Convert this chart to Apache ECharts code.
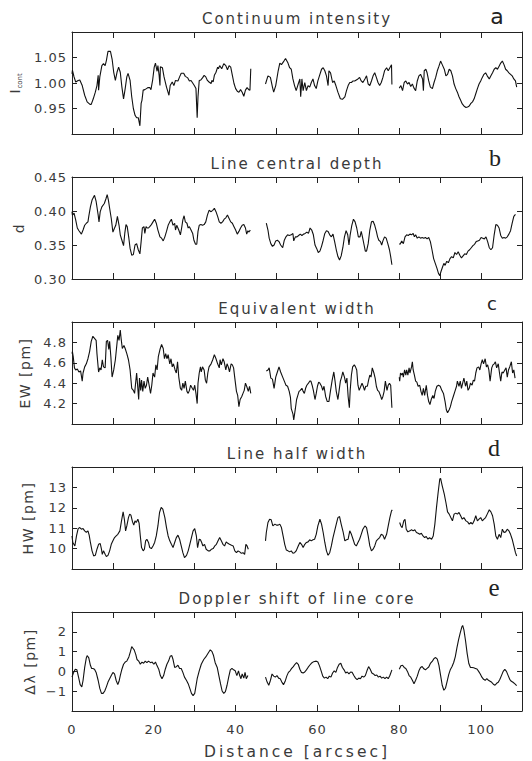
<!DOCTYPE html>
<html>
<head>
<meta charset="utf-8">
<script src="https://cdn.jsdelivr.net/npm/echarts@6/dist/echarts.min.js"></script>
<style>
  html, body { margin: 0; padding: 0; background: #ffffff; }
  #chart { width: 532px; height: 761px; }
  /* wide-tracked lettering for the plot texts */
  #chart text[style*="15px"] { letter-spacing: 2px; }
  #chart text[style*="15.5px"] { letter-spacing: 3px; }
  #chart text[style*="13px"] { letter-spacing: 1px; }
  #chart text[style*="14px"] { letter-spacing: 1.5px; }
</style>
</head>
<body>
<div id="chart"></div>
<script>
// Distance along the slit [arcsec]; gaps in the scan are marked by null.
const panelTitles = ['Continuum intensity', 'Line central depth', 'Equivalent width', 'Line half width', 'Doppler shift of line core'];
const panelLetters = ['a', 'b', 'c', 'd', 'e'];
const distanceTickLabels = [0, 20, 40, 60, 80, 100];

// a: continuum intensity I_cont
const continuumIntensity = [
  [0.0,1.018],[0.1,1.025],[0.5,1.012],[0.9,1.002],[1.5,1.005],[1.9,1.006],[2.5,0.995],[3.1,0.976],[3.7,0.963],[4.4,0.958],[4.7,0.958],[5.2,0.969],[5.7,0.982],[6.1,0.995],[6.4,1.015],[6.5,0.986],[6.8,1.012],[7.3,1.034],[7.7,1.038],[8.1,1.034],[8.4,1.044],[8.8,1.062],[9.4,1.062],[9.8,1.047],[10.2,1.021],[10.6,1.005],[11.0,1.021],[11.4,1.031],[11.8,1.021],[12.2,0.992],[12.6,0.969],[13.0,0.989],[13.4,1.012],[13.7,1.019],[14.2,1.005],[14.6,0.973],[15.0,0.950],[15.4,0.937],[15.8,0.932],[16.2,0.932],[16.6,0.916],[16.9,0.960],[17.1,0.966],[17.4,0.986],[17.8,0.987],[18.2,0.989],[18.6,0.991],[19.0,0.991],[19.3,0.987],[19.7,1.005],[20.1,1.031],[20.4,1.039],[20.8,1.023],[21.0,1.034],[21.3,1.015],[21.5,0.995],[21.6,1.032],[22.1,1.030],[22.5,1.012],[23.1,0.992],[23.7,0.976],[24.0,0.995],[24.5,1.002],[24.9,0.995],[25.3,1.005],[25.9,1.004],[26.3,1.012],[26.7,1.019],[27.3,1.019],[27.7,1.013],[28.3,1.010],[28.7,1.004],[29.1,1.005],[29.5,1.000],[29.9,0.995],[30.3,0.989],[30.6,0.932],[30.8,0.973],[31.1,1.005],[31.5,1.006],[31.9,1.010],[32.3,1.015],[32.7,1.012],[33.1,1.005],[33.5,1.002],[34.0,0.999],[34.2,1.005],[34.5,1.002],[34.8,1.015],[35.2,1.021],[35.6,1.031],[35.8,1.028],[36.1,1.034],[36.6,1.028],[37.1,1.038],[37.6,1.034],[38.0,1.026],[38.4,1.034],[38.8,1.031],[39.2,1.015],[39.6,0.999],[40.0,0.989],[40.4,0.984],[40.8,0.982],[41.2,0.987],[41.6,0.982],[42.0,0.974],[42.4,0.986],[42.8,0.991],[43.2,0.987],[43.5,0.986],[43.7,1.028],
  null,
  [47.3,0.998],[47.9,1.014],[48.5,1.011],[49.0,0.992],[49.3,0.982],[49.8,0.995],[50.4,1.024],[50.8,1.039],[51.2,1.036],[51.8,1.043],[52.2,1.048],[52.8,1.039],[53.2,1.030],[53.6,1.027],[54.0,1.008],[54.4,0.995],[54.8,0.985],[55.3,0.998],[55.7,1.008],[55.9,0.973],[56.2,1.008],[56.5,0.985],[56.9,1.001],[57.3,0.985],[57.7,0.995],[58.1,0.992],[58.5,1.001],[58.9,1.008],[59.3,0.995],[59.7,0.989],[60.1,1.004],[60.6,1.017],[61.0,1.027],[61.4,1.030],[61.8,1.024],[62.2,1.014],[62.6,0.995],[62.8,1.024],[63.2,1.020],[63.7,1.001],[64.1,1.004],[64.5,0.995],[65.0,0.982],[65.6,0.969],[66.1,0.968],[66.7,0.973],[67.1,0.985],[67.5,0.995],[67.9,1.001],[68.3,1.001],[68.7,1.004],[69.1,1.004],[69.5,1.006],[69.9,1.008],[70.3,1.011],[70.7,1.004],[71.1,1.001],[71.6,1.008],[72.0,1.014],[72.4,0.998],[72.8,0.995],[73.2,1.004],[73.6,1.014],[74.0,1.020],[74.4,1.011],[74.8,1.001],[75.2,0.995],[75.6,1.001],[76.0,1.011],[76.4,1.024],[76.9,1.030],[77.3,1.024],[77.7,1.030],[78.1,1.036],[78.2,0.997],
  null,
  [80.0,0.990],[80.4,0.995],[80.8,0.985],[81.2,1.001],[81.6,1.004],[82.0,0.998],[82.4,1.001],[82.8,0.993],[83.2,0.998],[83.6,0.990],[84.0,0.985],[84.4,1.004],[84.8,1.014],[85.2,1.017],[85.7,1.008],[85.9,0.985],[86.1,1.024],[86.5,1.027],[86.8,1.020],[87.2,1.004],[87.6,0.992],[88.1,0.989],[88.5,1.001],[88.9,1.011],[89.3,1.024],[89.7,1.033],[90.1,1.043],[90.5,1.036],[91.0,1.027],[91.4,1.014],[91.8,1.017],[92.2,1.027],[92.6,1.024],[93.0,1.014],[93.4,0.998],[93.8,0.989],[94.2,0.982],[94.6,0.973],[95.0,0.966],[95.4,0.959],[95.8,0.955],[96.3,0.952],[96.7,0.953],[97.1,0.955],[97.5,0.960],[97.9,0.963],[98.3,0.969],[98.7,0.979],[99.1,0.989],[99.5,0.998],[99.9,1.004],[100.3,1.011],[100.7,1.017],[101.1,1.020],[101.5,1.014],[102.0,1.008],[102.4,1.014],[102.8,1.020],[103.2,1.027],[103.6,1.030],[104.0,1.027],[104.4,1.033],[104.8,1.039],[105.2,1.043],[105.6,1.036],[106.0,1.027],[106.4,1.024],[106.8,1.020],[107.2,1.017],[107.6,1.014],[108.0,1.008],[108.4,1.004],[108.7,0.992]
];

// b: line central depth d
const centralDepth = [
  [0.0,0.399],[0.1,0.394],[0.5,0.397],[0.9,0.387],[1.3,0.375],[1.7,0.371],[2.3,0.366],[2.7,0.372],[3.1,0.379],[3.5,0.382],[3.9,0.384],[4.1,0.392],[4.5,0.406],[4.9,0.416],[5.5,0.423],[5.9,0.414],[6.4,0.394],[6.6,0.384],[6.9,0.399],[7.3,0.406],[7.9,0.411],[8.3,0.418],[8.6,0.424],[8.9,0.416],[9.2,0.404],[9.6,0.389],[10.0,0.369],[10.4,0.375],[10.7,0.379],[11.1,0.392],[11.5,0.379],[11.8,0.365],[12.2,0.357],[12.6,0.349],[12.9,0.367],[13.2,0.380],[13.5,0.377],[13.9,0.360],[14.2,0.345],[14.6,0.335],[15.0,0.336],[15.4,0.350],[15.8,0.352],[16.2,0.343],[16.6,0.337],[16.9,0.355],[17.2,0.375],[17.6,0.377],[17.8,0.367],[18.1,0.377],[18.4,0.375],[18.7,0.375],[19.0,0.377],[19.4,0.380],[19.8,0.384],[20.2,0.388],[20.6,0.382],[21.0,0.372],[21.5,0.362],[21.9,0.360],[22.3,0.356],[22.7,0.362],[23.1,0.370],[23.5,0.379],[23.9,0.384],[24.3,0.388],[24.7,0.379],[25.1,0.382],[25.3,0.372],[25.6,0.379],[26.1,0.372],[26.5,0.365],[26.8,0.375],[27.1,0.387],[27.4,0.393],[27.7,0.384],[28.1,0.382],[28.4,0.375],[28.7,0.377],[29.1,0.372],[29.5,0.367],[29.8,0.357],[30.2,0.351],[30.5,0.351],[30.8,0.370],[31.1,0.379],[31.5,0.380],[31.9,0.379],[32.3,0.380],[32.7,0.384],[33.1,0.394],[33.5,0.401],[34.0,0.399],[34.4,0.401],[34.8,0.404],[35.2,0.399],[35.6,0.392],[36.0,0.384],[36.4,0.382],[36.8,0.384],[37.2,0.388],[37.6,0.390],[38.0,0.394],[38.4,0.389],[38.8,0.384],[39.2,0.382],[39.6,0.377],[40.0,0.372],[40.4,0.366],[40.8,0.370],[41.2,0.375],[41.6,0.379],[42.0,0.380],[42.4,0.375],[42.7,0.366],[43.0,0.371],[43.2,0.369],[43.6,0.372],
  null,
  [47.5,0.382],[47.9,0.372],[48.2,0.360],[48.6,0.352],[49.0,0.348],[49.4,0.350],[49.8,0.356],[50.2,0.357],[50.6,0.355],[51.0,0.350],[51.5,0.346],[51.9,0.357],[52.3,0.362],[52.7,0.365],[53.1,0.364],[53.6,0.365],[54.0,0.367],[54.2,0.356],[54.6,0.362],[55.0,0.362],[55.4,0.364],[55.8,0.366],[56.2,0.364],[56.6,0.366],[57.0,0.367],[57.4,0.369],[57.8,0.367],[58.2,0.375],[58.6,0.372],[59.0,0.365],[59.4,0.350],[59.8,0.345],[60.2,0.339],[60.6,0.341],[61.0,0.348],[61.4,0.357],[61.8,0.367],[62.2,0.371],[62.6,0.370],[63.0,0.365],[63.4,0.362],[63.8,0.366],[64.2,0.355],[64.6,0.343],[65.0,0.333],[65.4,0.328],[65.8,0.334],[66.2,0.346],[66.6,0.362],[67.0,0.371],[67.4,0.365],[67.7,0.350],[68.0,0.365],[68.4,0.379],[68.8,0.388],[69.2,0.384],[69.6,0.375],[70.0,0.362],[70.4,0.362],[70.7,0.370],[71.0,0.362],[71.4,0.350],[71.7,0.341],[72.0,0.341],[72.4,0.352],[72.8,0.372],[73.2,0.384],[73.6,0.385],[74.0,0.379],[74.4,0.370],[74.7,0.362],[75.0,0.357],[75.4,0.355],[75.7,0.350],[76.0,0.356],[76.4,0.362],[76.8,0.360],[77.2,0.352],[77.6,0.343],[77.9,0.333],[78.2,0.321],
  null,
  [80.0,0.352],[80.2,0.351],[80.6,0.356],[81.0,0.352],[81.4,0.362],[81.8,0.365],[82.2,0.364],[82.6,0.366],[83.0,0.365],[83.4,0.367],[83.7,0.362],[84.0,0.365],[84.4,0.360],[84.8,0.362],[85.2,0.360],[85.6,0.361],[86.0,0.360],[86.4,0.361],[86.8,0.359],[87.2,0.361],[87.6,0.355],[88.0,0.343],[88.4,0.330],[88.8,0.323],[89.2,0.316],[89.6,0.308],[89.9,0.305],[90.2,0.311],[90.6,0.318],[90.9,0.323],[91.2,0.320],[91.6,0.326],[92.0,0.324],[92.4,0.330],[92.8,0.333],[93.2,0.331],[93.6,0.339],[94.0,0.336],[94.4,0.340],[94.8,0.335],[95.2,0.331],[95.6,0.334],[96.0,0.337],[96.4,0.336],[96.8,0.341],[97.2,0.343],[97.6,0.346],[98.0,0.349],[98.4,0.351],[98.8,0.355],[99.2,0.356],[99.6,0.357],[100.0,0.361],[100.4,0.360],[100.8,0.359],[101.2,0.362],[101.6,0.355],[102.0,0.346],[102.4,0.343],[102.8,0.346],[103.2,0.365],[103.6,0.380],[104.0,0.379],[104.4,0.375],[104.8,0.364],[105.2,0.360],[105.6,0.361],[106.0,0.360],[106.4,0.362],[106.8,0.366],[107.2,0.371],[107.6,0.382],[108.0,0.392],[108.4,0.395]
];

// c: equivalent width EW [pm]
const equivalentWidth = [
  [0.0,4.69],[0.1,4.71],[0.3,4.66],[0.6,4.55],[0.9,4.53],[1.3,4.54],[1.7,4.51],[2.1,4.52],[2.5,4.42],[2.7,4.50],[3.1,4.56],[3.5,4.59],[3.9,4.64],[4.3,4.71],[4.7,4.81],[5.1,4.86],[5.5,4.84],[5.9,4.82],[6.1,4.69],[6.5,4.51],[6.8,4.55],[7.1,4.53],[7.4,4.63],[7.7,4.56],[8.1,4.55],[8.4,4.81],[8.7,4.82],[9.0,4.73],[9.2,4.81],[9.5,4.66],[9.8,4.46],[10.2,4.53],[10.6,4.63],[11.0,4.79],[11.2,4.87],[11.5,4.82],[11.8,4.92],[12.0,4.84],[12.3,4.74],[12.7,4.77],[13.0,4.74],[13.4,4.69],[13.8,4.63],[14.2,4.53],[14.6,4.35],[15.0,4.33],[15.3,4.30],[15.6,4.42],[15.8,4.50],[16.0,4.40],[16.3,4.24],[16.5,4.45],[16.8,4.33],[17.0,4.43],[17.3,4.32],[17.6,4.42],[17.9,4.35],[18.2,4.38],[18.5,4.46],[18.9,4.37],[19.2,4.30],[19.5,4.38],[19.8,4.50],[20.2,4.46],[20.5,4.58],[20.8,4.53],[21.1,4.66],[21.5,4.73],[21.9,4.78],[22.3,4.74],[22.6,4.64],[22.9,4.69],[23.2,4.64],[23.5,4.68],[23.9,4.59],[24.2,4.64],[24.5,4.56],[24.8,4.59],[25.2,4.53],[25.5,4.50],[25.8,4.61],[26.1,4.46],[26.5,4.35],[26.8,4.33],[27.1,4.40],[27.4,4.35],[27.7,4.42],[28.1,4.32],[28.4,4.30],[28.7,4.33],[29.0,4.38],[29.4,4.35],[29.7,4.33],[30.0,4.38],[30.3,4.30],[30.6,4.20],[30.8,4.40],[31.1,4.50],[31.4,4.56],[31.6,4.51],[31.9,4.56],[32.3,4.53],[32.6,4.43],[32.9,4.40],[33.2,4.50],[33.5,4.56],[34.0,4.59],[34.4,4.63],[34.8,4.68],[35.2,4.64],[35.6,4.59],[36.0,4.55],[36.2,4.63],[36.5,4.58],[36.9,4.64],[37.2,4.61],[37.6,4.53],[37.9,4.59],[38.2,4.56],[38.5,4.51],[38.9,4.59],[39.2,4.58],[39.5,4.55],[39.8,4.45],[40.2,4.32],[40.5,4.28],[40.8,4.17],[41.1,4.24],[41.5,4.27],[41.8,4.30],[42.1,4.33],[42.4,4.40],[42.7,4.37],[43.1,4.32],[43.4,4.37],[43.7,4.30],
  null,
  [47.5,4.52],[47.9,4.53],[48.2,4.55],[48.6,4.45],[49.0,4.44],[49.4,4.35],[49.8,4.46],[50.2,4.51],[50.6,4.56],[51.0,4.51],[51.5,4.46],[51.9,4.42],[52.3,4.38],[52.7,4.37],[53.1,4.32],[53.4,4.26],[53.6,4.15],[54.0,4.10],[54.2,4.04],[54.6,4.15],[54.9,4.24],[55.2,4.28],[55.5,4.32],[55.8,4.33],[56.2,4.35],[56.5,4.32],[56.8,4.30],[57.1,4.35],[57.4,4.38],[57.8,4.40],[58.1,4.42],[58.4,4.42],[58.7,4.38],[59.0,4.33],[59.4,4.24],[59.7,4.30],[60.0,4.37],[60.3,4.41],[60.6,4.40],[61.0,4.37],[61.3,4.33],[61.6,4.37],[62.0,4.27],[62.4,4.22],[62.8,4.22],[63.2,4.33],[63.6,4.43],[64.0,4.51],[64.3,4.42],[64.6,4.32],[65.0,4.24],[65.3,4.33],[65.6,4.42],[65.9,4.46],[66.2,4.51],[66.6,4.46],[66.9,4.40],[67.2,4.45],[67.5,4.27],[67.8,4.16],[68.0,4.33],[68.3,4.48],[68.6,4.56],[69.0,4.58],[69.3,4.56],[69.6,4.53],[69.9,4.38],[70.2,4.33],[70.6,4.37],[70.9,4.40],[71.2,4.37],[71.5,4.33],[71.8,4.37],[72.2,4.37],[72.5,4.43],[72.8,4.48],[73.1,4.46],[73.4,4.55],[73.8,4.50],[74.1,4.45],[74.4,4.37],[74.7,4.33],[75.0,4.32],[75.4,4.28],[75.7,4.24],[76.0,4.27],[76.3,4.32],[76.6,4.42],[77.0,4.33],[77.3,4.38],[77.6,4.40],[77.9,4.38],[78.2,4.16],
  null,
  [80.0,4.46],[80.1,4.42],[80.3,4.50],[80.6,4.48],[80.8,4.50],[81.0,4.46],[81.3,4.53],[81.6,4.48],[81.8,4.53],[82.1,4.48],[82.4,4.55],[82.6,4.50],[83.0,4.56],[83.2,4.61],[83.4,4.53],[83.7,4.48],[84.0,4.42],[84.3,4.41],[84.6,4.37],[85.0,4.38],[85.3,4.32],[85.6,4.28],[85.9,4.35],[86.2,4.28],[86.6,4.38],[86.9,4.28],[87.2,4.22],[87.5,4.19],[87.8,4.24],[88.2,4.28],[88.5,4.25],[88.8,4.32],[89.2,4.37],[89.6,4.38],[90.0,4.37],[90.4,4.33],[90.8,4.30],[91.2,4.22],[91.5,4.14],[91.8,4.11],[92.2,4.14],[92.5,4.17],[92.8,4.22],[93.2,4.27],[93.6,4.32],[94.0,4.37],[94.2,4.42],[94.6,4.37],[94.9,4.42],[95.2,4.35],[95.5,4.40],[95.8,4.45],[96.2,4.37],[96.5,4.42],[96.8,4.33],[97.1,4.35],[97.4,4.40],[97.8,4.38],[98.1,4.43],[98.4,4.42],[98.7,4.50],[99.0,4.55],[99.4,4.56],[99.7,4.53],[100.0,4.59],[100.3,4.63],[100.6,4.59],[101.0,4.64],[101.3,4.56],[101.6,4.58],[101.9,4.53],[102.2,4.42],[102.6,4.55],[102.9,4.58],[103.2,4.59],[103.5,4.61],[103.8,4.55],[104.2,4.59],[104.5,4.50],[104.8,4.42],[105.1,4.51],[105.4,4.50],[105.8,4.53],[106.1,4.55],[106.4,4.46],[106.7,4.53],[107.0,4.56],[107.4,4.61],[107.7,4.50],[108.0,4.53],[108.3,4.45]
];

// d: line half width HW [pm]
const halfWidth = [
  [0.0,10.62],[0.2,10.30],[0.7,10.13],[1.1,10.62],[1.5,10.98],[1.9,11.03],[2.3,10.95],[2.7,10.98],[3.1,10.87],[3.5,10.79],[3.9,10.87],[4.2,10.66],[4.5,10.30],[4.9,9.89],[5.3,9.64],[5.7,9.67],[6.1,9.97],[6.5,10.21],[6.9,10.25],[7.2,9.97],[7.4,9.72],[7.7,9.89],[8.1,9.72],[8.4,9.61],[8.8,9.67],[9.2,9.89],[9.6,10.21],[10.0,10.38],[10.4,10.54],[10.8,10.62],[11.2,10.70],[11.7,10.87],[12.1,11.36],[12.5,11.80],[12.8,11.44],[13.1,10.87],[13.4,11.11],[13.8,11.52],[14.1,11.69],[14.4,11.64],[14.8,11.31],[15.1,11.15],[15.4,11.36],[15.7,11.28],[16.1,11.44],[16.4,11.25],[16.7,10.62],[17.0,10.05],[17.4,9.89],[17.7,9.97],[18.0,10.38],[18.3,10.46],[18.7,10.30],[19.0,10.05],[19.4,10.00],[19.8,10.13],[20.2,10.30],[20.6,10.62],[21.0,11.11],[21.4,11.77],[21.8,12.02],[22.2,11.93],[22.7,11.52],[23.1,11.03],[23.5,10.62],[23.9,10.38],[24.3,10.21],[24.7,10.05],[25.1,10.30],[25.5,10.54],[25.9,10.66],[26.3,10.46],[26.7,10.13],[27.1,9.80],[27.5,9.56],[28.0,9.67],[28.4,9.89],[28.8,10.21],[29.2,10.54],[29.6,10.87],[30.0,10.98],[30.4,10.62],[30.7,10.05],[31.1,10.46],[31.4,10.43],[31.7,10.30],[32.0,10.13],[32.4,10.21],[32.8,9.97],[33.3,9.89],[33.7,9.89],[34.1,9.97],[34.5,10.00],[34.9,10.13],[35.3,10.21],[35.7,10.38],[36.1,10.54],[36.5,10.38],[36.9,10.21],[37.3,10.13],[37.7,10.33],[38.1,10.26],[38.5,10.21],[39.0,10.16],[39.4,10.13],[39.8,9.89],[40.2,9.80],[40.6,9.89],[41.0,9.84],[41.4,9.77],[41.8,9.80],[42.2,9.72],[42.5,10.21],[42.8,10.13],[43.1,9.97],
  null,
  [47.3,10.38],[47.5,10.79],[47.9,11.28],[48.3,11.44],[48.7,11.41],[49.1,11.11],[49.6,11.20],[50.0,11.15],[50.4,11.15],[50.8,11.20],[51.2,11.03],[51.6,10.62],[52.0,10.21],[52.4,9.93],[52.8,9.89],[53.2,9.84],[53.6,9.89],[54.0,9.77],[54.4,9.80],[54.8,9.89],[55.3,10.13],[55.7,10.30],[56.1,10.21],[56.5,10.05],[56.9,10.21],[57.3,10.30],[57.7,10.33],[58.1,10.43],[58.5,10.38],[58.9,10.43],[59.3,10.46],[59.7,10.70],[60.1,11.11],[60.6,11.44],[61.0,11.20],[61.4,10.79],[61.8,10.30],[62.2,9.89],[62.6,9.67],[63.0,9.80],[63.4,10.13],[63.8,10.54],[64.2,10.87],[64.6,11.20],[65.0,11.52],[65.4,11.57],[65.8,11.20],[66.3,10.79],[66.7,10.38],[67.1,10.43],[67.5,10.46],[67.9,10.87],[68.3,10.70],[68.7,10.46],[69.1,10.21],[69.5,10.13],[69.9,10.30],[70.3,10.46],[70.7,10.70],[71.1,10.95],[71.6,11.11],[72.0,11.03],[72.4,10.62],[72.8,10.13],[73.2,9.89],[73.6,9.97],[74.0,10.13],[74.4,10.38],[74.8,10.46],[75.2,10.54],[75.6,10.70],[76.0,10.66],[76.4,10.46],[76.9,10.70],[77.3,11.11],[77.7,11.52],[78.1,11.85],[78.3,11.90],
  null,
  [80.1,11.28],[80.4,11.11],[80.7,11.03],[81.1,11.36],[81.4,11.44],[81.7,10.95],[82.1,10.82],[82.6,10.87],[83.0,10.92],[83.4,10.87],[83.8,10.92],[84.2,10.79],[84.6,10.75],[85.0,10.70],[85.4,10.75],[85.8,10.62],[86.2,10.54],[86.6,10.59],[87.0,10.46],[87.4,10.54],[87.9,10.46],[88.3,10.62],[88.7,11.20],[89.1,12.02],[89.5,12.75],[89.9,13.41],[90.1,13.44],[90.5,13.08],[91.0,12.67],[91.4,12.26],[91.8,11.80],[92.2,11.69],[92.6,11.52],[93.0,11.36],[93.4,11.69],[93.8,11.74],[94.2,11.69],[94.6,11.77],[95.0,11.61],[95.4,11.44],[95.8,11.52],[96.3,11.36],[96.7,11.31],[97.1,11.20],[97.5,11.28],[97.9,11.20],[98.3,11.36],[98.7,11.61],[99.1,11.36],[99.5,11.44],[99.9,11.52],[100.3,11.36],[100.7,11.44],[101.1,11.52],[101.5,11.69],[102.0,11.90],[102.4,11.80],[102.8,11.61],[103.2,11.20],[103.6,10.62],[104.0,10.46],[104.4,10.70],[104.8,10.54],[105.2,10.95],[105.6,10.79],[106.0,10.82],[106.4,10.95],[106.8,10.87],[107.2,10.70],[107.6,10.46],[108.0,10.13],[108.4,9.80],[108.7,9.64]
];

// e: Doppler shift of the line core [pm]
const dopplerShift = [
  [0.0,-0.29],[0.4,-0.05],[0.8,0.11],[1.2,0.08],[1.6,-0.29],[2.0,-0.67],[2.4,-0.78],[2.7,-0.46],[3.1,0.20],[3.5,0.68],[3.7,0.80],[4.1,0.68],[4.5,0.31],[4.8,0.15],[5.1,0.15],[5.5,0.11],[5.9,-0.05],[6.4,-0.46],[6.8,-0.86],[7.2,-1.11],[7.6,-1.11],[8.0,-0.99],[8.4,-0.78],[8.8,-0.54],[9.2,-0.37],[9.6,-0.21],[10.0,-0.05],[10.4,-0.13],[10.8,-0.46],[11.2,-0.67],[11.5,-0.50],[11.8,-0.21],[12.2,0.11],[12.6,0.36],[13.0,0.47],[13.4,0.52],[13.9,0.73],[14.3,1.01],[14.6,1.25],[14.9,1.17],[15.2,1.09],[15.6,0.85],[15.9,0.60],[16.3,0.52],[16.7,0.36],[17.1,0.47],[17.5,0.41],[17.9,0.52],[18.3,0.44],[18.7,0.52],[19.2,0.44],[19.6,0.47],[20.0,0.36],[20.4,0.47],[20.8,0.28],[21.2,0.11],[21.6,-0.21],[22.0,-0.37],[22.4,-0.21],[22.8,0.11],[23.2,0.36],[23.6,0.52],[24.0,0.76],[24.4,0.80],[24.7,0.60],[25.1,0.20],[25.5,0.24],[25.9,0.31],[26.3,0.15],[26.7,0.15],[27.1,-0.05],[27.5,-0.29],[28.0,-0.46],[28.4,-0.62],[28.8,-0.86],[29.2,-1.11],[29.6,-1.22],[30.0,-1.11],[30.6,-0.37],[31.1,0.03],[31.6,0.36],[32.2,0.60],[32.7,0.73],[33.3,0.93],[33.8,1.09],[34.2,1.01],[34.6,0.80],[35.0,0.44],[35.5,0.20],[35.9,-0.21],[36.3,-0.62],[36.7,-0.99],[37.1,-1.11],[37.5,-1.02],[37.9,-0.70],[38.3,-0.29],[38.7,0.08],[39.1,0.15],[39.5,0.08],[39.9,0.03],[40.3,-0.21],[40.7,0.03],[41.0,-0.21],[41.3,-0.37],[41.6,-0.13],[42.0,-0.34],[42.3,-0.05],[42.6,-0.37],[43.0,-0.21],
  null,
  [47.3,-0.29],[47.7,-0.54],[48.1,-0.70],[48.5,-0.46],[48.9,-0.13],[49.3,-0.24],[49.7,-0.29],[50.1,-0.21],[50.5,-0.34],[50.9,-0.37],[51.3,-0.54],[51.7,-0.67],[52.1,-0.50],[52.5,-0.24],[52.9,-0.05],[53.3,0.03],[53.7,0.15],[54.1,0.24],[54.5,0.36],[54.9,0.44],[55.3,0.36],[55.7,0.11],[56.1,-0.05],[56.5,-0.08],[56.9,-0.03],[57.3,0.08],[57.7,0.20],[58.1,0.31],[58.5,0.41],[58.9,0.47],[59.3,0.50],[59.7,0.52],[60.1,0.47],[60.5,0.28],[60.9,0.03],[61.3,-0.24],[61.7,-0.34],[62.1,-0.29],[62.5,-0.37],[62.9,-0.24],[63.3,-0.29],[63.7,-0.08],[64.1,0.03],[64.5,-0.05],[64.9,0.20],[65.3,0.36],[65.7,0.41],[66.1,0.20],[66.5,0.08],[66.9,-0.08],[67.3,-0.03],[67.7,-0.13],[68.1,-0.03],[68.5,-0.05],[68.9,-0.21],[69.3,-0.34],[69.7,-0.42],[70.1,-0.34],[70.5,-0.37],[70.9,-0.24],[71.3,-0.29],[71.7,-0.21],[72.1,0.03],[72.5,0.24],[72.9,0.11],[73.3,-0.08],[73.7,-0.13],[74.1,-0.21],[74.5,-0.18],[74.9,-0.29],[75.3,-0.24],[75.7,-0.34],[76.1,-0.29],[76.5,-0.37],[76.9,-0.29],[77.3,-0.37],[77.7,-0.21],[78.2,0.08],
  null,
  [80.0,0.11],[80.4,0.28],[80.8,0.31],[81.2,0.20],[81.6,0.15],[82.0,0.00],[82.4,-0.21],[82.8,-0.29],[83.2,-0.45],[83.6,-0.62],[84.0,-0.45],[84.4,-0.24],[84.8,0.03],[85.2,0.20],[85.6,0.25],[86.0,0.13],[86.4,0.08],[86.8,0.15],[87.2,0.22],[87.6,0.40],[88.1,0.52],[88.5,0.65],[88.9,0.70],[89.3,0.62],[89.7,0.30],[90.1,-0.20],[90.5,-0.70],[90.9,-0.95],[91.3,-0.85],[91.7,-0.50],[92.1,-0.15],[92.5,0.10],[92.9,0.25],[93.3,0.45],[93.7,0.75],[94.1,1.20],[94.5,1.60],[94.9,1.95],[95.3,2.25],[95.5,2.32],[95.8,2.10],[96.2,1.55],[96.6,0.90],[97.0,0.40],[97.4,0.20],[97.8,0.20],[98.2,0.18],[98.6,0.15],[99.0,0.12],[99.4,0.00],[99.8,-0.13],[100.2,-0.29],[100.6,-0.40],[101.0,-0.45],[101.4,-0.37],[101.8,-0.45],[102.2,-0.50],[102.6,-0.55],[103.0,-0.65],[103.4,-0.70],[103.8,-0.60],[104.2,-0.55],[104.6,-0.40],[105.0,-0.20],[105.4,0.00],[105.8,0.10],[106.2,0.00],[106.6,-0.20],[107.0,-0.40],[107.4,-0.50],[107.8,-0.55],[108.2,-0.62],[108.7,-0.72]
];

const panelSeries = [continuumIntensity, centralDepth, equivalentWidth, halfWidth, dopplerShift];

// y-axis ranges and tick spacing per panel
const yRanges = [
  { min: 0.90, max: 1.10, interval: 0.05, digits: 2, edgeLabels: false },
  { min: 0.30, max: 0.45, interval: 0.05, digits: 2, edgeLabels: true },
  { min: 4.0,  max: 5.0,  interval: 0.2,  digits: 1, edgeLabels: false },
  { min: 9,    max: 14,   interval: 1,    digits: 0, edgeLabels: false },
  { min: -2,   max: 3,    interval: 1,    digits: 0, edgeLabels: false }
];
const yNames = ['{i|I}{s|cont}', 'd', 'EW [pm]', 'HW [pm]', 'Δλ [pm]'];
const yNameGaps = [49, 46, 40, 37, 35];

const FONT = '"DejaVu Sans", "Liberation Sans", sans-serif';
const INK = '#222222';
const TEXT = '#3a3a3a';

const plotLeft = 72, plotWidth = 450, plotHeight = 102;
const plotTops = [32, 177, 322, 467, 612];

// split a null-separated series into its contiguous scan segments
function splitSegments(arr) {
  const out = [[]];
  arr.forEach(p => { if (p === null) out.push([]); else out[out.length - 1].push(p); });
  return out.filter(s => s.length);
}

const grid = [], xAxis = [], yAxis = [], series = [], graphic = [];

plotTops.forEach((top, i) => {
  grid.push({ left: plotLeft, top: top, width: plotWidth, height: plotHeight, containLabel: false });
  const isBottom = i === plotTops.length - 1;
  const r = yRanges[i];

  // bottom and top x axes (ticks inward on both)
  xAxis.push({
    gridIndex: i, type: 'value', min: 0, max: 110, interval: 10, position: 'bottom',
    axisLine: { show: true, onZero: false, lineStyle: { color: INK, width: 1 } },
    axisTick: { show: true, inside: true, length: 6, lineStyle: { color: INK } },
    splitLine: { show: false },
    axisLabel: {
      show: isBottom, margin: 12, color: TEXT, fontFamily: FONT, fontSize: 13,
      formatter: v => (distanceTickLabels.indexOf(v) >= 0 ? String(v) : '')
    },
    name: isBottom ? 'Distance [arcsec]' : '',
    nameLocation: 'middle', nameGap: 33,
    nameTextStyle: { color: TEXT, fontFamily: FONT, fontSize: 15.5 }
  });
  xAxis.push({
    gridIndex: i, type: 'value', min: 0, max: 110, interval: 10, position: 'top',
    axisLine: { show: true, onZero: false, lineStyle: { color: INK, width: 1 } },
    axisTick: { show: true, inside: true, length: 6, lineStyle: { color: INK } },
    splitLine: { show: false }, axisLabel: { show: false }
  });

  // left and right y axes
  const fmt = v => {
    const s = v.toFixed(r.digits);
    return s.charAt(0) === '-' ? '\u2212' + s.slice(1) : s;
  };
  yAxis.push({
    gridIndex: i, type: 'value', min: r.min, max: r.max, interval: r.interval, position: 'left',
    axisLine: { show: true, onZero: false, lineStyle: { color: INK, width: 1 } },
    axisTick: { show: true, inside: true, length: 5, lineStyle: { color: INK } },
    splitLine: { show: false },
    axisLabel: {
      show: true, margin: 5, color: TEXT, fontFamily: FONT, fontSize: 13,
      showMinLabel: r.edgeLabels, showMaxLabel: r.edgeLabels, formatter: fmt
    },
    name: yNames[i], nameLocation: 'middle', nameRotate: 90, nameGap: yNameGaps[i],
    nameTextStyle: {
      color: TEXT, fontFamily: FONT, fontSize: 14,
      rich: {
        i: { color: TEXT, fontFamily: FONT, fontSize: 14, lineHeight: 16 },
        s: { color: TEXT, fontFamily: FONT, fontSize: 7, verticalAlign: 'bottom', lineHeight: 16 }
      }
    }
  });
  yAxis.push({
    gridIndex: i, type: 'value', min: r.min, max: r.max, interval: r.interval, position: 'right',
    axisLine: { show: true, onZero: false, lineStyle: { color: INK, width: 1 } },
    axisTick: { show: true, inside: true, length: 5, lineStyle: { color: INK } },
    splitLine: { show: false }, axisLabel: { show: false }
  });

  splitSegments(panelSeries[i]).forEach(seg => {
    series.push({
      type: 'line', xAxisIndex: 2 * i, yAxisIndex: 2 * i, data: seg,
      showSymbol: false, symbol: 'none', silent: true, animation: false,
      lineStyle: { color: '#111111', width: 1.1 }
    });
  });

  // panel heading
  graphic.push({
    type: 'text', x: plotLeft + plotWidth / 2, y: top - 13, silent: true,
    style: {
      text: panelTitles[i], fill: TEXT, font: '15px ' + FONT,
      align: 'center', verticalAlign: 'middle', textAlign: 'center', textVerticalAlign: 'middle'
    }
  });
});

// panel letters
const letterFonts = [
  '22px "DejaVu Sans", sans-serif',
  '24px "Liberation Serif", serif',
  '18px "DejaVu Sans", sans-serif',
  '24px "Liberation Serif", serif',
  '25px "Liberation Serif", serif'
];
const letterX = [497, 495, 492, 494, 494];
const letterBase = [27, 170, 312, 460, 600];
panelLetters.forEach((l, i) => {
  graphic.push({
    type: 'text', x: letterX[i], y: letterBase[i], silent: true,
    style: {
      text: l, fill: '#222222', font: letterFonts[i],
      align: 'center', verticalAlign: 'bottom', textAlign: 'center', textVerticalAlign: 'bottom'
    }
  });
});

const chart = echarts.init(document.getElementById('chart'), null, { renderer: 'svg' });
chart.setOption({
  animation: false,
  backgroundColor: '#ffffff',
  grid, xAxis, yAxis, series, graphic
});
</script>
</body>
</html>
